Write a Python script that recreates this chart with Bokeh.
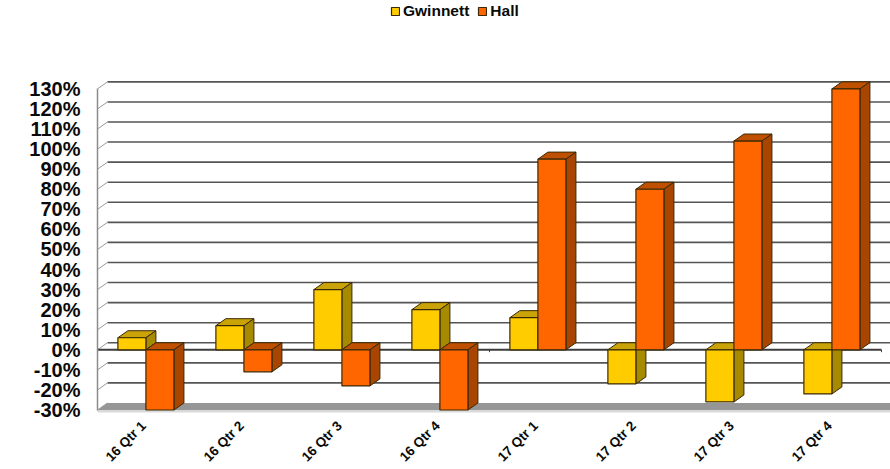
import math
from bokeh.embed import file_html
from bokeh.models import FixedTicker, Label, Legend, LegendItem, LinearAxis, Range1d
from bokeh.plotting import figure
from bokeh.resources import INLINE

categories = ["16 Qtr 1", "16 Qtr 2", "16 Qtr 3", "16 Qtr 4",
              "17 Qtr 1", "17 Qtr 2", "17 Qtr 3", "17 Qtr 4"]
gwinnett = [6, 12, 30, 20, 16, -17, -26, -22]
hall = [-30, -11, -18, -30, 95, 80, 104, 130]
pct_ticks = list(range(-30, 131, 10))

FONT = "Liberation Sans"
TEXT = "#0a0a0a"
# Depth of the pseudo-3D projection, in data units
DX = 0.102
DY = 3.5
BAR = 0.286
OUTLINE = "#3b2a05"

FRONT_L, FRONT_W, FRONT_H = 97, 793, 415
UNIT = 2.007
x_end = FRONT_W / 98
y_lo = -30 - 5.5 / UNIT
y_hi = y_lo + FRONT_H / UNIT

p = figure(width=890, height=469, output_backend="svg", toolbar_location=None,
           frame_width=FRONT_W, frame_height=FRONT_H,
           x_range=Range1d(0, x_end), y_range=Range1d(y_lo, y_hi),
           x_axis_location=None, y_axis_location=None,
           min_border_left=FRONT_L, min_border_right=0,
           min_border_top=0, min_border_bottom=469 - FRONT_H,
           outline_line_color=None, background_fill_color="white")
p.grid.visible = False

# Floor of the chart
p.quad(left=[0], right=[x_end], bottom=[-30 - 1.2], top=[-30], color="#d9d9d9", line_color=None)
p.patch([0, DX, x_end, x_end], [-30, -30 + DY, -30 + DY, -30], color="#969696", line_color=None)

# Back gridlines with the short diagonal joining them to the value axis
for t in pct_ticks:
    if t == -30:
        continue
    p.line([DX, x_end], [t + DY, t + DY], line_color="#555555", line_width=1.6)
for t in pct_ticks:
    p.line([0, DX], [t, t + DY], line_color="#9a9a9a", line_width=1)

# Value axis
left = LinearAxis(ticker=FixedTicker(ticks=pct_ticks),
                  major_label_overrides={t: f"{t}%" for t in pct_ticks},
                  bounds=(-30, 130),
                  axis_line_color="#8c8c8c", axis_line_width=1.5,
                  major_tick_line_color=None, minor_tick_line_color=None,
                  major_tick_out=0, major_tick_in=0,
                  major_label_text_font=FONT, major_label_text_font_style="bold",
                  major_label_text_font_size="20px", major_label_text_color=TEXT,
                  major_label_standoff=17)
p.add_layout(left, "left")

p.add_layout(Label(x=23, y=50, x_units="canvas", y_units="data", angle=math.pi / 2,
                   text="Units Closed % Change", text_font=FONT, text_font_style="bold",
                   text_font_size="14.4px", text_color=TEXT,
                   text_align="center", text_baseline="bottom"))

# Category axis, used only for its rotated labels
label_shift = -0.03
bottom = LinearAxis(ticker=FixedTicker(ticks=[i + 0.5 + label_shift for i in range(len(categories))]),
                    major_label_overrides={i + 0.5 + label_shift: c for i, c in enumerate(categories)},
                    axis_line_color=None, major_tick_line_color=None, minor_tick_line_color=None,
                    major_tick_out=0, major_tick_in=0,
                    major_label_orientation=math.pi / 4,
                    major_label_text_font=FONT, major_label_text_font_style="bold",
                    major_label_text_font_size="13.5px", major_label_text_color=TEXT,
                    major_label_standoff=8)
p.add_layout(bottom, "below")

# Zero line in the front plane
p.line([0, 8], [0, 0], line_color="#3d3d3d", line_width=2)
for i in (4, 8):
    p.line([i, i], [0, -1.2], line_color="#3d3d3d", line_width=1)

palette = {
    "Gwinnett": ("#ffcc00", "#c9a308", "#a68a00"),
    "Hall": ("#ff6600", "#bf5000", "#a84500"),
}


def draw_bar(x0, x1, value, colors):
    front, top, side = colors
    hi = max(value, 0)
    lo = min(value, 0)
    p.patch([x0, x0 + DX, x1 + DX, x1], [hi, hi + DY, hi + DY, hi],
            fill_color=top, line_color=OUTLINE, line_width=1)
    p.patch([x1, x1 + DX, x1 + DX, x1], [hi, hi + DY, lo + DY, lo],
            fill_color=side, line_color=OUTLINE, line_width=1)
    return p.quad(left=[x0], right=[x1], bottom=[lo], top=[hi],
                  fill_color=front, line_color=OUTLINE, line_width=1.2)


legend_refs = {}
for i in range(len(categories)):
    mid = i + 0.494
    g = draw_bar(mid - BAR, mid, gwinnett[i], palette["Gwinnett"])
    h = draw_bar(mid, mid + BAR, hall[i], palette["Hall"])
    legend_refs.setdefault("Gwinnett", g)
    legend_refs.setdefault("Hall", h)

legend = Legend(items=[LegendItem(label=k, renderers=[r]) for k, r in legend_refs.items()],
                orientation="horizontal", location=(293, 395),
                border_line_color=None, background_fill_alpha=0,
                glyph_width=10, glyph_height=10, label_standoff=3, spacing=8,
                label_text_font=FONT, label_text_font_style="bold",
                label_text_font_size="15.5px", label_text_color=TEXT,
                padding=0, margin=0)
p.add_layout(legend)

open("out.html", "w").write(file_html(p, INLINE))
